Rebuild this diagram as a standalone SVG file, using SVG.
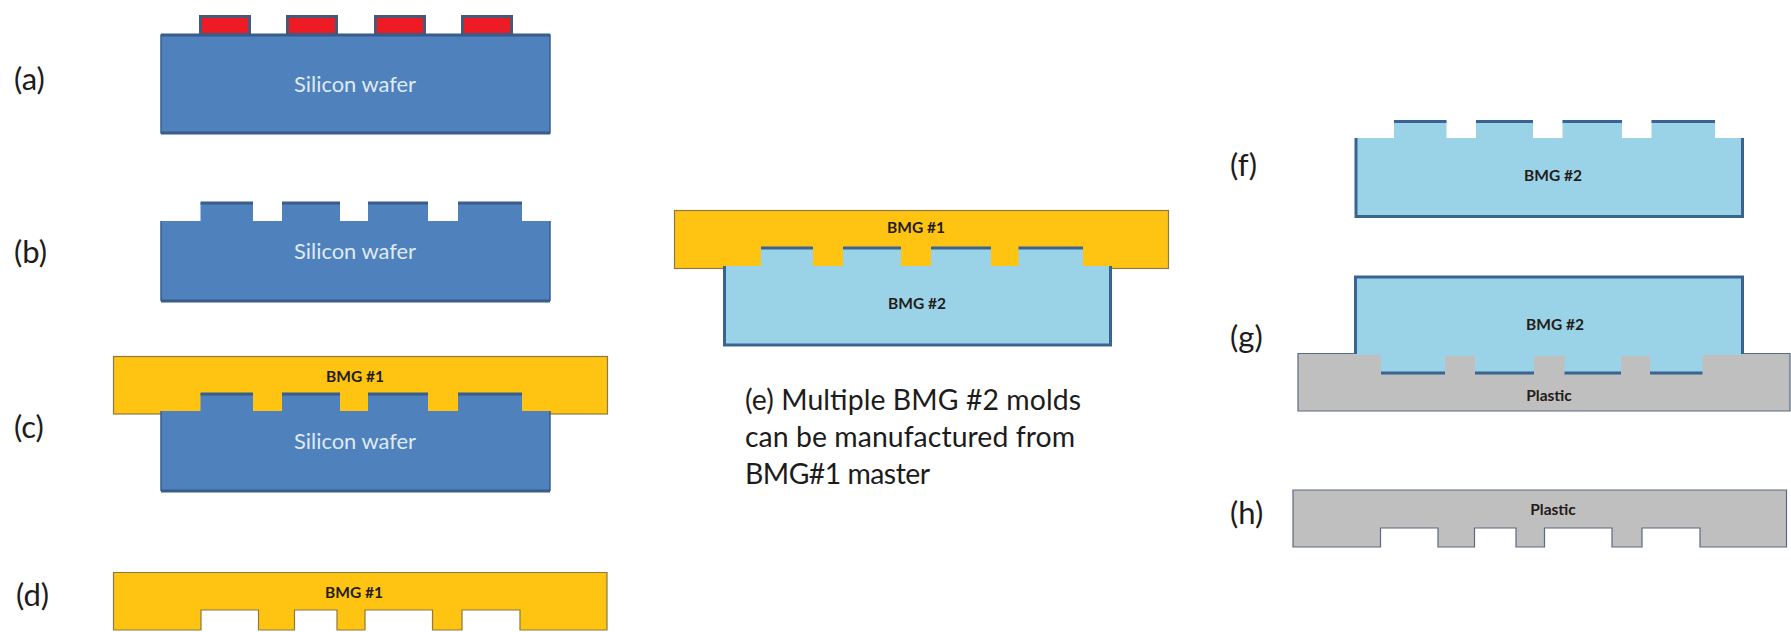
<svg xmlns="http://www.w3.org/2000/svg" width="1791" height="632" viewBox="0 0 1791 632">
<style>
text{font-family:Lato,"Open Sans","Liberation Sans",sans-serif}
.lbl{font-size:31px;fill:#1c1c1c}
.cap{font-size:28.4px;fill:#1c1c1c}
.w{font-size:21.9px;fill:#dfeaf3;text-anchor:middle}
.b{font-size:15.5px;font-weight:700;fill:#241c18;text-anchor:middle}
.si{fill:#4f81bd}
.edge{fill:none;stroke:#385d8a;stroke-width:3}
.thin{fill:none;stroke:#385d8a;stroke-width:1.5}
.au{fill:#ffc312;stroke:#8c7a40;stroke-width:1.2}
.lb{fill:#9ad2e8}
.pl{fill:#bfbfbf;stroke:#5a6b80;stroke-width:1.2}
.dk{fill:none;stroke:#3a6390;stroke-width:3}
.red{fill:#ed1c24;stroke:#4a5878;stroke-width:3}
</style>
<rect width="1791" height="632" fill="#fff"/>
<g id="a">
<text class="lbl" x="14" y="90">(a)</text>
<rect class="red" x="200.500" y="16.500" width="49" height="18"/>
<rect class="red" x="287.500" y="16.500" width="49" height="18"/>
<rect class="red" x="375.500" y="16.500" width="49" height="18"/>
<rect class="red" x="462.500" y="16.500" width="49" height="18"/>
<rect class="si" x="161" y="35" width="389" height="98"/>
<path class="edge" d="M161 35H550M161 133H550"/>
<rect class="thin" x="161" y="35" width="389" height="98"/>
<text class="w" x="355" y="92">Silicon wafer</text>
</g>
<g id="b">
<text class="lbl" x="14" y="263">(b)</text>
<path class="si" d="M161 221H200.500V203H253V221H282V203H340V221H368V203H428V221H458V203H522V221H550V301H161Z"/>
<path class="edge" d="M200.500 203H253M282 203H340M368 203H428M458 203H522M161 301H550"/>
<path class="thin" d="M161 301V221M550 301V221"/>
<text class="w" x="355" y="259">Silicon wafer</text>
</g>
<g id="c">
<text class="lbl" x="14" y="438">(c)</text>
<rect class="au" x="113.500" y="356.500" width="494" height="57.500"/>
<path class="si" d="M161 411H200.500V394H253V411H282V394H340V411H368V394H428V411H458V394H522V411H550V491H161Z"/>
<path class="edge" d="M200.500 394H253M282 394H340M368 394H428M458 394H522M161 491H550"/>
<path class="thin" d="M161 491V411M550 491V411"/>
<text class="b" x="355" y="382">BMG #1</text>
<text class="w" x="355" y="449">Silicon wafer</text>
</g>
<g id="d">
<text class="lbl" x="16" y="606">(d)</text>
<path class="au" d="M113.500 572.500H607V630H520V610H462V630H432.500V610H365V630H337V610H294.500V630H258.500V610H201V630H113.500Z"/>
<text class="b" x="354" y="598">BMG #1</text>
</g>
<g id="e">
<rect class="au" x="674.500" y="210.500" width="494" height="58"/>
<path class="lb" d="M723 266H761V248H813V266H843V248H901V266H931V248H991V266H1018.500V248H1083V266H1112V346H723Z"/>
<path class="dk" d="M724.500 266V345H1110.500V266M761 248H813M843 248H901M931 248H991M1018.500 248H1083"/>
<text class="b" x="916" y="233">BMG #1</text>
<text class="b" x="917" y="309">BMG #2</text>
<text class="cap" x="745" y="410" textLength="336">(e) Multiple BMG #2 molds</text>
<text class="cap" x="745" y="447" textLength="330">can be manufactured from</text>
<text class="cap" x="745" y="484" textLength="185">BMG#1 master</text>
</g>
<g id="f">
<text class="lbl" x="1230" y="176">(f)</text>
<path class="lb" d="M1355 138H1394V121H1446.500V138H1476V121H1533V138H1562.500V121H1622V138H1651.500V121H1715V138H1743V217H1355Z"/>
<path class="dk" d="M1356 138V216.500H1742.500V138M1394 121.500H1446.500M1476 121.500H1533M1562.500 121.500H1622M1651.500 121.500H1715"/>
<text class="b" x="1553" y="181">BMG #2</text>
</g>
<g id="g">
<text class="lbl" x="1230" y="348">(g)</text>
<path class="pl" d="M1298 353.500H1790V411H1298Z"/>
<path class="lb" d="M1355 276H1743V355H1702.500V373H1650V356H1621V373H1564.500V356H1534V373H1475V356H1445V373H1381V355H1355Z"/>
<path class="dk" d="M1355.500 354V277H1742.500V354M1381 373H1445M1475 373H1534M1564.500 373H1621M1650 373H1702.500"/>
<text class="b" x="1555" y="330">BMG #2</text>
<text class="b" x="1549" y="401">Plastic</text>
</g>
<g id="h">
<text class="lbl" x="1230" y="524">(h)</text>
<path class="pl" d="M1293 490H1786.500V547H1700V528H1642V547H1612V528H1544.500V547H1516V528H1474.500V547H1438V528H1380.500V547H1293Z"/>
<text class="b" x="1553" y="515">Plastic</text>
</g>
</svg>
